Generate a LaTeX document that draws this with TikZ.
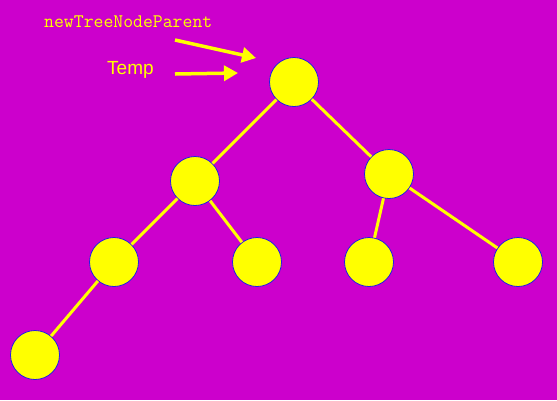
\documentclass[tikz,border=0pt]{standalone}
\usepackage{fontspec}
\newfontfamily\tempfont{Liberation Sans}
\usetikzlibrary{arrows.meta}
\definecolor{bgmag}{RGB}{204,0,204}
\definecolor{nodeyel}{RGB}{255,255,0}
\definecolor{rimblue}{RGB}{30,30,230}
\begin{document}
\begin{tikzpicture}[x=1pt,y=-1pt,
  tnode/.style={circle,draw=rimblue,fill=nodeyel,line width=0.8pt,minimum size=49pt,inner sep=0pt},
  tedge/.style={draw=nodeyel,line width=3pt},
  pointer/.style={draw=nodeyel,line width=3.5pt,-{Triangle[length=14pt,width=15pt]}},
  lbl/.style={text=nodeyel,inner sep=0pt,anchor=base west}]
\fill[bgmag] (0,0) rectangle (557,400);
\useasboundingbox (0,0) rectangle (557,400);
\node[tnode] (r) at (294,82) {};
\node[tnode] (a) at (195,181) {};
\node[tnode] (b) at (389,174) {};
\node[tnode] (aa) at (114,262) {};
\node[tnode] (ab) at (257,262) {};
\node[tnode] (ba) at (369,262) {};
\node[tnode] (bb) at (518,262) {};
\node[tnode] (aaa) at (35,355) {};
\draw[tedge] (r) -- (a);
\draw[tedge] (r) -- (b);
\draw[tedge] (a) -- (aa);
\draw[tedge] (a) -- (ab);
\draw[tedge] (b) -- (ba);
\draw[tedge] (b) -- (bb);
\draw[tedge] (aa) -- (aaa);
\node[lbl,font=\fontsize{19.2}{21}\ttfamily] (ntnp) at (44,27) {newTreeNodeParent};
\node[lbl,font=\fontsize{19}{21}\tempfont] (temp) at (107,74) {Temp};
\coordinate (p1s) at (175,40);
\coordinate (p1e) at (256,58);
\coordinate (p2s) at (175,74);
\coordinate (p2e) at (238,73);
\draw[pointer] (p1s) -- (p1e);
\draw[pointer] (p2s) -- (p2e);
\end{tikzpicture}
\end{document}
